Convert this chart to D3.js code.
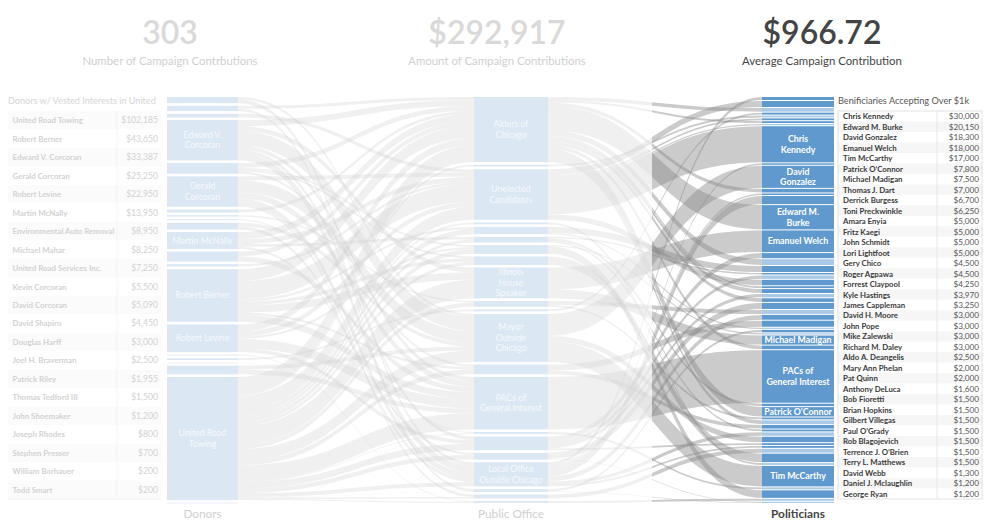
<!DOCTYPE html>
<html>
<head>
<meta charset="utf-8">
<script src="https://cdn.jsdelivr.net/npm/d3@7"></script>
<style>
  body { margin: 0; background: #fff; font-family: Lato, "Open Sans", sans-serif; }
</style>
</head>
<body>
<div id="viz"></div>
<script>
const kpiValues = ["303", "$292,917", "$966.72"]
const kpiLabels = ["Number of Campaign Contrbutions", "Amount of Campaign Contributions", "Average Campaign Contribution"]
const columnTitles = ["Donors", "Public Office", "Politicians"]

const donors = [
  ["United Road Towing", 102185], ["Robert Berner", 43650], ["Edward V. Corcoran", 33387],
  ["Gerald Corcoran", 25250], ["Robert Levine", 22950], ["Martin McNally", 13950],
  ["Environmental Auto Removal", 8950], ["Michael Mahar", 8250], ["United Road Services Inc.", 7250],
  ["Kevin Corcoran", 5500], ["David Corcoran", 5090], ["David Shapiro", 4450],
  ["Douglas Harff", 3000], ["Joel H. Braverman", 2500], ["Patrick Riley", 1955],
  ["Thomas Tedford III", 1500], ["John Shoemaker", 1200], ["Joseph Rhodes", 800],
  ["Stephen Presser", 700], ["William Borhauer", 200], ["Todd Smart", 200]
]

const beneficiaries = [
  ["Chris Kennedy", 30000], ["Edward M. Burke", 20150], ["David Gonzalez", 18300],
  ["Emanuel Welch", 18000], ["Tim McCarthy", 17000], ["Patrick O\u2019Connor", 7800],
  ["Michael Madigan", 7500], ["Thomas J. Dart", 7000], ["Derrick Burgess", 6700],
  ["Toni Preckwinkle", 6250], ["Amara Enyia", 5000], ["Fritz Kaegi", 5000],
  ["John Schmidt", 5000], ["Lori Lightfoot", 5000], ["Gery Chico", 4500],
  ["Roger Agpawa", 4500], ["Forrest Claypool", 4250], ["Kyle Hastings", 3970],
  ["James Cappleman", 3250], ["David H. Moore", 3000], ["John Pope", 3000],
  ["Mike Zalewski", 3000], ["Richard M. Daley", 3000], ["Aldo A. Deangelis", 2500],
  ["Mary Ann Phelan", 2000], ["Pat Quinn", 2000], ["Anthony DeLuca", 1600],
  ["Bob Fioretti", 1500], ["Brian Hopkins", 1500], ["Gilbert Villegas", 1500],
  ["Paul O\u2019Grady", 1500], ["Rob Blagojevich", 1500], ["Terrence J. O\u2019Brien", 1500],
  ["Terry L. Matthews", 1500], ["David Webb", 1300], ["Daniel J. Mclaughlin", 1200],
  ["George Ryan", 1200]
]

// public office column, top to bottom
const offices = [
  "Alders of Chicago", "City Clerk", "Unelected Candidates", "Cook County Clerk",
  "Cook County Assessor", "Governor", "Cook County Board", "Cook County Sheriff",
  "Illinois House Speaker", "State Senate", "State Representative", "Mayor Outside Chicago",
  "Mayor of Chicago", "PACs of General Interest", "Party Committees", "Cook County Commissioners",
  "Water Reclamation District", "Local Office Outside Chicago", "Judicial", "Attorney General", "Congress"
]

// politicians column, top to bottom ("Under $1k" = groups of small beneficiaries)
const politicians = [
  "Aldo A. Deangelis", "Amara Enyia", "Under $1k 1", "Anthony DeLuca", "Under $1k 2", "Bob Fioretti",
  "Brian Hopkins", "Under $1k 3", "Chris Kennedy", "Daniel J. Mclaughlin", "David Gonzalez",
  "David H. Moore", "David Webb", "Derrick Burgess", "Edward M. Burke", "Emanuel Welch",
  "Forrest Claypool", "Under $1k 4", "Fritz Kaegi", "George Ryan", "Under $1k 5", "Gery Chico",
  "Gilbert Villegas", "James Cappleman", "Under $1k 6", "John Pope", "John Schmidt", "Under $1k 7",
  "Kyle Hastings", "Lori Lightfoot", "Under $1k 8", "Mary Ann Phelan", "Under $1k 9",
  "Michael Madigan", "Mike Zalewski", "PACs of General Interest", "Pat Quinn", "Patrick O\u2019Connor",
  "Paul O\u2019Grady", "Under $1k 10", "Richard M. Daley", "Rob Blagojevich", "Under $1k 11",
  "Roger Agpawa", "Terrence J. O\u2019Brien", "Terry L. Matthews", "Under $1k 12", "Thomas J. Dart",
  "Under $1k 13", "Tim McCarthy", "Under $1k 14", "Toni Preckwinkle", "Under $1k 15", "Under $1k 16"
]

const donorLinks = [
  ["David Corcoran", "Local Office Outside Chicago", 3000], ["David Corcoran", "Mayor Outside Chicago", 2090],
  ["David Shapiro", "Alders of Chicago", 2450], ["David Shapiro", "Judicial", 2000],
  ["Douglas Harff", "Unelected Candidates", 3000],
  ["Edward V. Corcoran", "Mayor Outside Chicago", 12000], ["Edward V. Corcoran", "Local Office Outside Chicago", 6000],
  ["Edward V. Corcoran", "Alders of Chicago", 5000], ["Edward V. Corcoran", "Illinois House Speaker", 4000],
  ["Edward V. Corcoran", "PACs of General Interest", 3387], ["Edward V. Corcoran", "Cook County Commissioners", 3000],
  ["Environmental Auto Removal", "Alders of Chicago", 4000], ["Environmental Auto Removal", "Mayor of Chicago", 2000],
  ["Environmental Auto Removal", "Cook County Board", 1500], ["Environmental Auto Removal", "Cook County Sheriff", 1450],
  ["Gerald Corcoran", "Mayor Outside Chicago", 10000], ["Gerald Corcoran", "Local Office Outside Chicago", 5000],
  ["Gerald Corcoran", "PACs of General Interest", 5000], ["Gerald Corcoran", "Unelected Candidates", 3250],
  ["Gerald Corcoran", "Attorney General", 2000],
  ["Joel H. Braverman", "Alders of Chicago", 2500],
  ["John Shoemaker", "State Senate", 1200],
  ["Joseph Rhodes", "Party Committees", 800],
  ["Kevin Corcoran", "Mayor Outside Chicago", 3000], ["Kevin Corcoran", "Local Office Outside Chicago", 2500],
  ["Martin McNally", "Alders of Chicago", 6000], ["Martin McNally", "Unelected Candidates", 4000],
  ["Martin McNally", "Governor", 2200], ["Martin McNally", "Water Reclamation District", 1750],
  ["Michael Mahar", "PACs of General Interest", 4250], ["Michael Mahar", "Alders of Chicago", 4000],
  ["Patrick Riley", "Unelected Candidates", 1955],
  ["Robert Berner", "Unelected Candidates", 15000], ["Robert Berner", "Alders of Chicago", 10000],
  ["Robert Berner", "Illinois House Speaker", 6000], ["Robert Berner", "PACs of General Interest", 5650],
  ["Robert Berner", "Cook County Sheriff", 3000], ["Robert Berner", "Cook County Assessor", 2000],
  ["Robert Berner", "Mayor of Chicago", 2000],
  ["Robert Levine", "PACs of General Interest", 8000], ["Robert Levine", "Alders of Chicago", 6000],
  ["Robert Levine", "Unelected Candidates", 4000], ["Robert Levine", "Cook County Commissioners", 3000],
  ["Robert Levine", "Cook County Board", 1950],
  ["Stephen Presser", "Congress", 700],
  ["Thomas Tedford III", "State Representative", 1500],
  ["Todd Smart", "Judicial", 200],
  ["United Road Services Inc.", "PACs of General Interest", 4000], ["United Road Services Inc.", "Mayor Outside Chicago", 3250],
  ["United Road Towing", "Alders of Chicago", 14050], ["United Road Towing", "City Clerk", 1500],
  ["United Road Towing", "Unelected Candidates", 10795], ["United Road Towing", "Cook County Clerk", 1500],
  ["United Road Towing", "Cook County Assessor", 4000], ["United Road Towing", "Governor", 2500],
  ["United Road Towing", "Cook County Board", 3800], ["United Road Towing", "Cook County Sheriff", 2550],
  ["United Road Towing", "Illinois House Speaker", 15500], ["United Road Towing", "State Senate", 3600],
  ["United Road Towing", "State Representative", 100], ["United Road Towing", "Mayor Outside Chicago", 9460],
  ["United Road Towing", "Mayor of Chicago", 4000], ["United Road Towing", "PACs of General Interest", 13280],
  ["United Road Towing", "Party Committees", 600], ["United Road Towing", "Cook County Commissioners", 5300],
  ["United Road Towing", "Water Reclamation District", 3850], ["United Road Towing", "Judicial", 200],
  ["United Road Towing", "Local Office Outside Chicago", 3500], ["United Road Towing", "Attorney General", 1200],
  ["United Road Towing", "Congress", 900],
  ["William Borhauer", "Party Committees", 200]
]

const officeLinks = [
  ["Alders of Chicago", "Edward M. Burke", 20150], ["Alders of Chicago", "Patrick O\u2019Connor", 7800],
  ["Alders of Chicago", "James Cappleman", 3250], ["Alders of Chicago", "David H. Moore", 3000],
  ["Alders of Chicago", "John Pope", 3000], ["Alders of Chicago", "Mike Zalewski", 3000],
  ["Alders of Chicago", "Brian Hopkins", 1500], ["Alders of Chicago", "Gilbert Villegas", 1500],
  ["Alders of Chicago", "Under $1k 1", 3000], ["Alders of Chicago", "Under $1k 4", 4800],
  ["Alders of Chicago", "Under $1k 10", 3000],
  ["City Clerk", "Under $1k 2", 1500],
  ["Unelected Candidates", "Chris Kennedy", 30000], ["Unelected Candidates", "Amara Enyia", 5000],
  ["Unelected Candidates", "Gery Chico", 4500], ["Unelected Candidates", "Bob Fioretti", 1500],
  ["Unelected Candidates", "Under $1k 3", 1000],
  ["Cook County Clerk", "Under $1k 13", 1500],
  ["Cook County Assessor", "Fritz Kaegi", 5000], ["Cook County Assessor", "Under $1k 8", 1000],
  ["Governor", "Pat Quinn", 2000], ["Governor", "Rob Blagojevich", 1500], ["Governor", "George Ryan", 1200],
  ["Cook County Board", "Toni Preckwinkle", 6250], ["Cook County Board", "Under $1k 9", 1000],
  ["Cook County Sheriff", "Thomas J. Dart", 7000],
  ["Illinois House Speaker", "Emanuel Welch", 18000], ["Illinois House Speaker", "Michael Madigan", 7500],
  ["State Senate", "Paul O\u2019Grady", 1500], ["State Senate", "Under $1k 7", 3300],
  ["State Representative", "Anthony DeLuca", 1600],
  ["Mayor Outside Chicago", "David Gonzalez", 18300], ["Mayor Outside Chicago", "Tim McCarthy", 17000],
  ["Mayor Outside Chicago", "Roger Agpawa", 4500],
  ["Mayor of Chicago", "Lori Lightfoot", 5000], ["Mayor of Chicago", "Richard M. Daley", 3000],
  ["PACs of General Interest", "PACs of General Interest", 43567],
  ["Party Committees", "Under $1k 14", 1600],
  ["Cook County Commissioners", "Forrest Claypool", 4250], ["Cook County Commissioners", "Terrence J. O\u2019Brien", 1500],
  ["Cook County Commissioners", "Under $1k 5", 2800], ["Cook County Commissioners", "Under $1k 6", 2750],
  ["Water Reclamation District", "John Schmidt", 5000], ["Water Reclamation District", "Under $1k 16", 600],
  ["Local Office Outside Chicago", "Derrick Burgess", 6700], ["Local Office Outside Chicago", "Kyle Hastings", 3970],
  ["Local Office Outside Chicago", "Aldo A. Deangelis", 2500], ["Local Office Outside Chicago", "Terry L. Matthews", 1500],
  ["Local Office Outside Chicago", "David Webb", 1300], ["Local Office Outside Chicago", "Daniel J. Mclaughlin", 1200],
  ["Local Office Outside Chicago", "Under $1k 11", 2830],
  ["Judicial", "Mary Ann Phelan", 2000], ["Judicial", "Under $1k 16", 400],
  ["Attorney General", "Under $1k 12", 3200],
  ["Congress", "Under $1k 15", 1600]
]

// wrapped labels for the largest nodes
const nodeLabels = new Map([
  ["Edward V. Corcoran", ["Edward V.", "Corcoran"]], ["Gerald Corcoran", ["Gerald", "Corcoran"]],
  ["Martin McNally", ["Martin McNally"]], ["Robert Berner", ["Robert Berner"]],
  ["Robert Levine", ["Robert Levine"]], ["United Road Towing", ["United Road", "Towing"]],
  ["Alders of Chicago", ["Alders of", "Chicago"]], ["Unelected Candidates", ["Unelected", "Candidates"]],
  ["Illinois House Speaker", ["Illinois", "House", "Speaker"]], ["Mayor Outside Chicago", ["Mayor", "Outside", "Chicago"]],
  ["PACs of General Interest", ["PACs of", "General Interest"]], ["Local Office Outside Chicago", ["Local Office", "Outside Chicago"]],
  ["Chris Kennedy", ["Chris", "Kennedy"]], ["David Gonzalez", ["David", "Gonzalez"]],
  ["Edward M. Burke", ["Edward M.", "Burke"]], ["Emanuel Welch", ["Emanuel Welch"]],
  ["Michael Madigan", ["Michael Madigan"]], ["Patrick O\u2019Connor", ["Patrick O\u2019Connor"]],
  ["Tim McCarthy", ["Tim McCarthy"]]
])

// ---- layout ----
const W = 990, H = 528
const colTop = 97, colBottom = 503
const faded = "#d2d2d2"

const svg = d3.select("#viz").append("svg")
  .attr("width", W).attr("height", H)
  .style("font-family", "Lato, 'Open Sans', sans-serif")

// KPIs
const kpiX = [170, 497, 822]
kpiValues.forEach((v, i) => {
  svg.append("text").attr("x", kpiX[i]).attr("y", 44).attr("text-anchor", "middle")
    .attr("font-size", 32).attr("font-weight", 600)
    .attr("fill", i === 2 ? "#444" : "#d9d9d9").text(v)
  svg.append("text").attr("x", kpiX[i]).attr("y", 65).attr("text-anchor", "middle")
    .attr("font-size", 11.4)
    .attr("fill", i === 2 ? "#444" : "#d0d0d0").text(kpiLabels[i])
})

// columns
const donorOrder = donors.map(d => d[0]).sort(d3.ascending)
const cols = [
  { x: 167, w: 71, names: donorOrder, gap: 2 },
  { x: 474, w: 74, names: offices, gap: 2 },
  { x: 762, w: 72, names: politicians, gap: 1 }
]
const links0 = donorLinks.map(d => ({ s: d[0], t: d[1], v: d[2] }))
const links1 = officeLinks.map(d => ({ s: d[0], t: d[1], v: d[2] }))

const colValue = [
  new Map(d3.rollups(links0, v => d3.sum(v, d => d.v), d => d.s)),
  new Map(d3.rollups(links0, v => d3.sum(v, d => d.v), d => d.t)),
  new Map(d3.rollups(links1, v => d3.sum(v, d => d.v), d => d.t))
]
const total = d3.sum(donors, d => d[1])
const avail = colBottom - colTop
const ky = d3.min(cols, c => (avail - (c.names.length - 1) * c.gap) / total)
const size = d3.scaleLinear().domain([0, total]).range([0, total * ky])

cols.forEach((c, ci) => {
  const g = (avail - size(total)) / (c.names.length - 1)
  let y = colTop
  c.nodes = new Map()
  c.names.forEach(n => {
    const v = colValue[ci].get(n) || 0
    const h = size(v)
    c.nodes.set(n, { name: n, v, y0: y, y1: y + h, outY: y, inY: y })
    y += h + g
  })
})

// attach link positions (outgoing sorted by target position, incoming by source)
function place(links, a, b) {
  const bySource = d3.group(links, d => d.s)
  bySource.forEach((ls, s) => {
    ls.sort((p, q) => b.nodes.get(p.t).y0 - b.nodes.get(q.t).y0)
    const n = a.nodes.get(s)
    ls.forEach(l => { l.y0 = n.outY; n.outY += size(l.v) })
  })
  const byTarget = d3.group(links, d => d.t)
  byTarget.forEach((ls, t) => {
    ls.sort((p, q) => a.nodes.get(p.s).y0 - a.nodes.get(q.s).y0)
    const n = b.nodes.get(t)
    ls.forEach(l => { l.y1 = n.inY; n.inY += size(l.v) })
  })
}
place(links0, cols[0], cols[1])
place(links1, cols[1], cols[2])

function ribbon(x0, x1, l) {
  const w = size(l.v), xm = (x0 + x1) / 2
  const p = d3.path()
  p.moveTo(x0, l.y0)
  p.bezierCurveTo(xm, l.y0, xm, l.y1, x1, l.y1)
  p.lineTo(x1, l.y1 + w)
  p.bezierCurveTo(xm, l.y1 + w, xm, l.y0 + w, x0, l.y0 + w)
  p.closePath()
  return p.toString()
}

const defs = svg.append("defs")
const split = 652
defs.append("clipPath").attr("id", "clipL").append("rect")
  .attr("x", 540).attr("y", 0).attr("width", split - 540).attr("height", H)
defs.append("clipPath").attr("id", "clipR").append("rect")
  .attr("x", split).attr("y", 0).attr("width", 770 - split).attr("height", H)

const x0a = cols[0].x + cols[0].w, x1a = cols[1].x
const x0b = cols[1].x + cols[1].w, x1b = cols[2].x

svg.append("g").selectAll("path").data(links0).join("path")
  .attr("d", d => ribbon(x0a, x1a, d))
  .attr("fill", "#cfcfcf").attr("fill-opacity", 0.32)

svg.append("g").attr("clip-path", "url(#clipL)")
  .selectAll("path").data(links1).join("path")
  .attr("d", d => ribbon(x0b, x1b, d))
  .attr("fill", "#cfcfcf").attr("fill-opacity", 0.32)

svg.append("g").attr("clip-path", "url(#clipR)")
  .selectAll("path").data(links1).join("path")
  .attr("d", d => ribbon(x0b, x1b, d))
  .attr("fill", "#8c8c8c").attr("fill-opacity", 0.45)

// nodes
const named = new Set(beneficiaries.map(d => d[0]).concat(["PACs of General Interest"]))
cols.forEach((c, ci) => {
  const g = svg.append("g")
  const nodes = Array.from(c.nodes.values())
  g.selectAll("rect").data(nodes).join("rect")
    .attr("x", c.x).attr("width", c.w)
    .attr("y", d => d.y0).attr("height", d => Math.max(0.6, d.y1 - d.y0))
    .attr("fill", d => ci < 2 ? "#dbe7f2" : (named.has(d.name) ? "#5f99cd" : "#a9c9e6"))
  nodes.filter(d => nodeLabels.has(d.name)).forEach(d => {
    const lines = nodeLabels.get(d.name)
    const lh = 10.5
    const cy = (d.y0 + d.y1) / 2 - (lines.length - 1) * lh / 2 + 3
    const t = g.append("text").attr("text-anchor", "middle")
      .attr("font-size", ci < 2 ? 8.8 : 8.8).attr("font-weight", ci < 2 ? 400 : 700)
      .attr("fill", ci < 2 ? "#f6f9fc" : "#fff")
    lines.forEach((s, i) => t.append("tspan").attr("x", c.x + c.w / 2).attr("y", cy + i * lh).text(s))
  })
  svg.append("text").attr("x", c.x + c.w / 2).attr("y", 518).attr("text-anchor", "middle")
    .attr("font-size", 11.8).attr("font-weight", ci === 2 ? 700 : 400)
    .attr("fill", ci === 2 ? "#444" : "#cfcfcf").text(columnTitles[ci])
})

// left table: donors
svg.append("text").attr("x", 8).attr("y", 104).attr("font-size", 9.1)
  .attr("fill", "#d6d6d6").text("Donors w/ Vested Interests in United")
const rowL = d3.scaleBand().domain(donors.map(d => d[0])).range([111, 499])
const lt = svg.append("g")
lt.selectAll("rect").data(donors).join("rect")
  .attr("x", 8).attr("width", 153).attr("y", d => rowL(d[0])).attr("height", rowL.bandwidth())
  .attr("fill", (d, i) => i % 2 ? "#ffffff" : "#fbfbfb")
lt.append("line").attr("x1", 117).attr("x2", 117).attr("y1", 111).attr("y2", 499).attr("stroke", "#f3f3f3")
lt.append("line").attr("x1", 8).attr("x2", 161).attr("y1", 499).attr("y2", 499).attr("stroke", "#f0f0f0")
lt.selectAll("text.n").data(donors).join("text").attr("class", "n")
  .attr("x", 12.5).attr("y", d => rowL(d[0]) + rowL.bandwidth() / 2 + 3)
  .attr("font-size", 7.9).attr("font-weight", 700).attr("fill", faded).text(d => d[0])
lt.selectAll("text.v").data(donors).join("text").attr("class", "v")
  .attr("x", 158).attr("y", d => rowL(d[0]) + rowL.bandwidth() / 2 + 3).attr("text-anchor", "end")
  .attr("font-size", 8.6).attr("fill", faded).text(d => d3.format("$,")(d[1]))

// right table: beneficiaries
svg.append("text").attr("x", 838).attr("y", 104).attr("font-size", 9.2)
  .attr("fill", "#555").text("Benificiaries Accepting Over $1k")
const rowR = d3.scaleBand().domain(beneficiaries.map(d => d[0])).range([111, 499])
const rt = svg.append("g")
rt.selectAll("rect").data(beneficiaries).join("rect")
  .attr("x", 838).attr("width", 144).attr("y", d => rowR(d[0])).attr("height", rowR.bandwidth())
  .attr("fill", (d, i) => i % 2 ? "#f6f6f6" : "#ffffff")
rt.append("rect").attr("x", 838).attr("y", 111).attr("width", 144).attr("height", 388)
  .attr("fill", "none").attr("stroke", "#e2e2e2")
rt.append("line").attr("x1", 937).attr("x2", 937).attr("y1", 111).attr("y2", 499).attr("stroke", "#e6e6e6")
rt.selectAll("text.n").data(beneficiaries).join("text").attr("class", "n")
  .attr("x", 843).attr("y", d => rowR(d[0]) + rowR.bandwidth() / 2 + 3)
  .attr("font-size", 7.8).attr("font-weight", 700).attr("fill", "#3a3a3a").text(d => d[0])
rt.selectAll("text.v").data(beneficiaries).join("text").attr("class", "v")
  .attr("x", 979).attr("y", d => rowR(d[0]) + rowR.bandwidth() / 2 + 3).attr("text-anchor", "end")
  .attr("font-size", 8.2).attr("fill", "#555").text(d => d3.format("$,")(d[1]))
</script>
</body>
</html>
